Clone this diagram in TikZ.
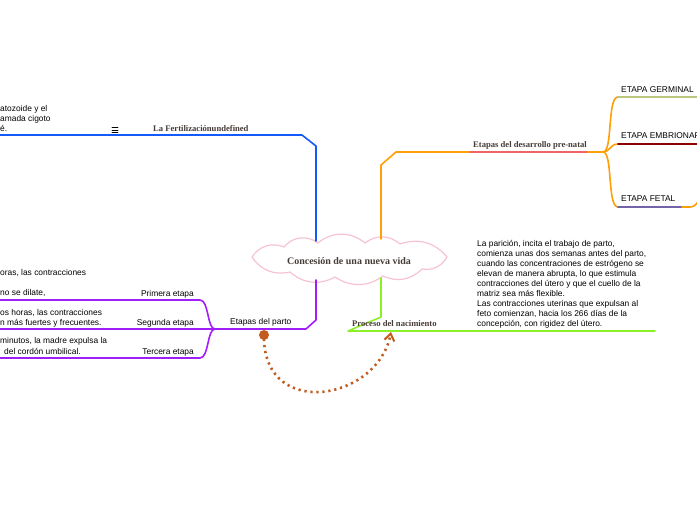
\documentclass[tikz,border=0pt]{standalone}
\usepackage{fontspec}
\setmainfont{Liberation Serif}
\setsansfont{Liberation Sans}
\usetikzlibrary{arrows.meta}
\definecolor{blu}{RGB}{20,90,250}
\definecolor{arancio}{RGB}{255,160,10}
\definecolor{viola}{RGB}{160,30,250}
\definecolor{verde}{RGB}{140,240,40}
\definecolor{salmone}{RGB}{240,100,100}
\definecolor{oliva}{RGB}{185,200,125}
\definecolor{rossoscuro}{RGB}{140,0,0}
\definecolor{lavanda}{RGB}{115,100,170}
\definecolor{ruggine}{RGB}{195,90,30}
\definecolor{rosa}{RGB}{247,195,210}
\definecolor{titolo}{RGB}{70,60,55}

\begin{document}
\begin{tikzpicture}[x=1pt,y=-1pt,line join=round,line cap=round,
  ramo/.style={line width=1.6pt},
  tema/.style={font=\fontsize{8.6}{10}\selectfont\rmfamily\bfseries,text=titolo,inner sep=0pt},
  voce/.style={font=\fontsize{8.4}{10}\selectfont\sffamily,inner sep=0pt},
  testo/.style={font=\fontsize{8.4}{10}\selectfont\sffamily,inner sep=0pt}]
  \useasboundingbox (0,0) rectangle (697,520);

  % --- nuvola centrale
  \draw[rosa,fill=white,line width=1.2pt,line join=miter]
    (252,257) to[bend left=40] (284,247) to[bend left=45] (318,243)
    to[bend left=40] (365,243) to[bend left=40] (400,244)
    to[bend left=35] (447,257) to[bend left=35] (422,269)
    to[bend left=35] (383,276) to[bend left=35] (335,277)
    to[bend left=35] (290,272) to[bend left=35] cycle;
  \node[font=\fontsize{10}{12}\selectfont\rmfamily\bfseries,text=titolo,inner sep=0pt]
        (centro) at (349,261) {Concesión de una nueva vida};

  % --- ramo blu: la fertilizzazione
  \coordinate (b0) at (316,241);
  \coordinate (b1) at (316,146);
  \coordinate (b2) at (302,135);
  \coordinate (b3) at (0,135);
  \draw[ramo,blu] (b0) -- (b1) -- (b2) -- (b3);
  \node[tema,anchor=base west] (fert) at (153,131) {La Fertilizaciónundefined};
  \draw[line width=0.6pt] (112,127.5) -- (118,127.5) (112,130) -- (118,130) (112,132.5) -- (118,132.5);
  \node[testo,anchor=base west] (f1) at (0,111) {atozoide y el};
  \node[testo,anchor=base west] (f2) at (0,121) {amada cigoto};
  \node[testo,anchor=base west] (f3) at (0,131) {é.};

  % --- ramo arancio: sviluppo prenatale
  \coordinate (o0) at (381,239);
  \coordinate (o1) at (381,165);
  \coordinate (o2) at (396,152);
  \coordinate (o3) at (470,152);
  \coordinate (o4) at (588,152);
  \coordinate (o5) at (603,152);
  \draw[ramo,arancio] (o0) -- (o1) -- (o2) -- (o3);
  \draw[ramo,salmone] (o3) -- (o4);
  \draw[ramo,arancio] (o4) -- (o5);
  \node[tema,anchor=base west] (prenatal) at (473,147) {Etapas del desarrollo pre-natal};

  \coordinate (g0) at (618,97);
  \coordinate (e0) at (618,144);
  \coordinate (t0) at (618,207);
  \coordinate (t1) at (682,207);
  \draw[ramo,arancio] (o5) .. controls (613,152) and (607,97) .. (g0);
  \draw[ramo,arancio] (o5) .. controls (610,152) and (610,144) .. (e0);
  \draw[ramo,arancio] (o5) .. controls (613,152) and (607,207) .. (t0);
  \draw[ramo,oliva] (g0) -- (697,97);
  \draw[ramo,rossoscuro] (e0) -- (697,144);
  \draw[ramo,lavanda] (t0) -- (t1);
  \draw[ramo,arancio] (t1) -- (690,207) .. controls (695,207) and (697,203) .. (699,200);
  \node[voce,anchor=base west] (germ) at (621,92) {ETAPA GERMINAL};
  \node[voce,anchor=base west] (embr) at (621,138) {ETAPA EMBRIONARIA};
  \node[voce,anchor=base west] (fet) at (621,201) {ETAPA FETAL};

  % --- ramo viola: le etapas del parto
  \coordinate (p0) at (316,280);
  \coordinate (p1) at (316,320);
  \coordinate (p2) at (306,329);
  \coordinate (p3) at (215,329);
  \draw[ramo,viola] (p0) -- (p1) -- (p2) -- (p3);
  \node[voce,anchor=base west] (parto) at (230,324) {Etapas del parto};
  \coordinate (s1) at (200,300);
  \coordinate (s3) at (200,358);
  \draw[ramo,viola] (p3) .. controls (207,329) and (209,300) .. (s1) -- (0,300);
  \draw[ramo,viola] (p3) -- (0,329);
  \draw[ramo,viola] (p3) .. controls (207,329) and (209,358) .. (s3) -- (0,358);
  \node[voce,anchor=base east] (prima) at (194,296) {Primera etapa};
  \node[voce,anchor=base east] (seconda) at (194,325) {Segunda etapa};
  \node[voce,anchor=base east] (terza) at (194,354) {Tercera etapa};
  \node[testo,anchor=base west] (l1) at (0,275) {oras, las contracciones};
  \node[testo,anchor=base west] (l2) at (0,295) {no se dilate,};
  \node[testo,anchor=base west] (l3) at (0,315) {os horas, las contracciones};
  \node[testo,anchor=base west] (l4) at (0,325) {n más fuertes y frecuentes.};
  \node[testo,anchor=base west] (l5) at (0,343) {minutos, la madre expulsa la};
  \node[testo,anchor=base west] (l6) at (4,354) {del cordón umbilical.};

  % --- ramo verde: il nascimento
  \coordinate (n0) at (381,278);
  \coordinate (n1) at (381,317);
  \coordinate (n2) at (348,331);
  \coordinate (n3) at (655,331);
  \draw[ramo,verde] (n0) -- (n1) -- (n2) -- (n3);
  \node[tema,anchor=base west] (nacim) at (352,326) {Proceso del nacimiento};
  \node[testo,anchor=north west,align=left] (parizione) at (477,240)
    {La parición, incita el trabajo de parto,\\
     comienza unas dos semanas antes del parto,\\
     cuando las concentraciones de estrógeno se\\
     elevan de manera abrupta, lo que estimula\\
     contracciones del útero y que el cuello de la\\
     matriz sea más flexible.\\
     Las contracciones uterinas que expulsan al\\
     feto comienzan, hacia los 266 días de la\\
     concepción, con rigidez del útero.};

  % --- collegamento punteggiato
  \fill[ruggine] (264,335) circle (5pt);
  \coordinate (da) at (264,339);
  \coordinate (a) at (391,332);
  \draw[ruggine,line width=2.6pt,dash pattern=on 2.2pt off 3.8pt,line cap=butt,
        -{Straight Barb[length=7pt,width=10pt,line width=2pt]}]
    (da) .. controls (266,420) and (378,400) .. (a);
\end{tikzpicture}
\end{document}
